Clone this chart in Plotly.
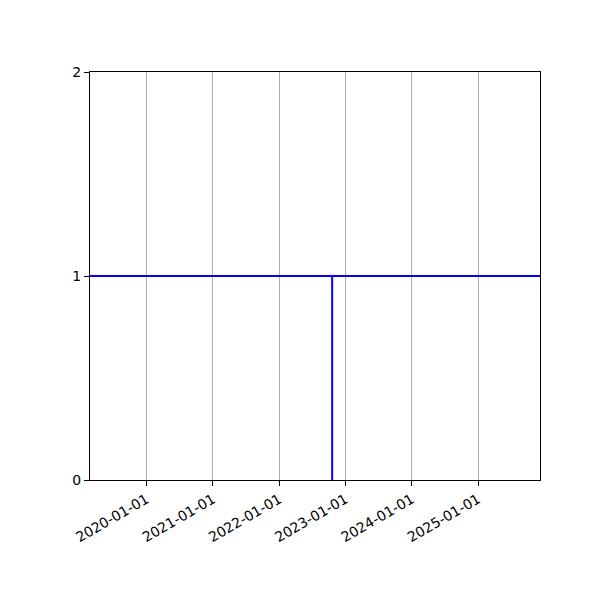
"""
Linha horizontal em y=1 com um degrau vertical em 2022-10
"""

import plotly.graph_objects as go

# Dados
inicio_eixo = '2019-02-24'
fim_eixo = '2025-12-08'
data_degrau = '2022-10-20'

horizontal_x = [inicio_eixo, fim_eixo]
horizontal_y = [1, 1]
vertical_x = [data_degrau, data_degrau]
vertical_y = [0, 1]

anos_ticks = ['2020-01-01', '2021-01-01', '2022-01-01',
              '2023-01-01', '2024-01-01', '2025-01-01']
y_ticks = [0, 1, 2]


def criar_grafico():
    fig = go.Figure()
    fig.add_trace(go.Scatter(x=horizontal_x, y=horizontal_y, mode='lines',
                             line=dict(color='#0000ff', width=2),
                             showlegend=False, hoverinfo='skip'))
    fig.add_trace(go.Scatter(x=vertical_x, y=vertical_y, mode='lines',
                             line=dict(color='#0000ff', width=2),
                             showlegend=False, hoverinfo='skip'))

    eixo = dict(showline=True, linecolor='black', linewidth=1.1, mirror=True,
                ticks='outside', ticklen=5, tickwidth=1.1, tickcolor='black',
                zeroline=False)

    # a página adiciona ~8px de margem, por isso l e t são compensados
    fig.update_layout(
        width=600, height=600,
        margin=dict(l=82, r=68, t=64, b=128),
        plot_bgcolor='white', paper_bgcolor='white',
        font=dict(family='DejaVu Sans', size=14, color='black'),
        xaxis=dict(type='date', range=[inicio_eixo, fim_eixo],
                   tickvals=anos_ticks, ticktext=anos_ticks,
                   tickangle=-30, showgrid=True, gridcolor='#b0b0b0',
                   gridwidth=1.1, **eixo),
        yaxis=dict(range=[0, 2], tickvals=y_ticks, showgrid=False, **eixo),
    )
    return fig


fig = criar_grafico()
fig.write_html("out.html")
